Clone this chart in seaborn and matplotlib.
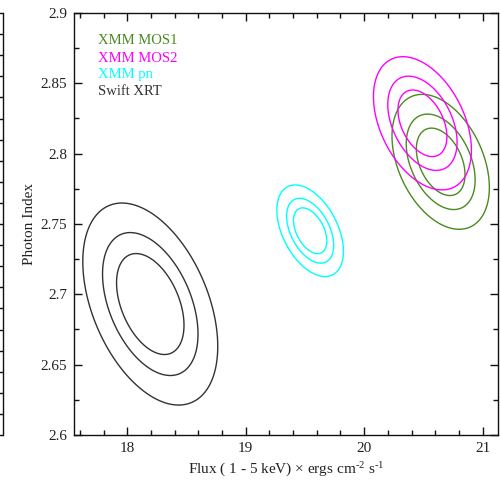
import numpy as np
import matplotlib
matplotlib.use("Agg")
import matplotlib.pyplot as plt
from matplotlib.ticker import MultipleLocator, FuncFormatter
import seaborn as sns

# Best-fit values and 1-sigma widths of the power-law fits (flux in 1e-12 ergs/cm2/s)
instruments = ["XMM MOS1", "XMM MOS2", "XMM pn", "Swift XRT"]
flux_best = [20.646, 20.492, 19.544, 18.194]
gamma_best = [2.7942, 2.8216, 2.7452, 2.6931]
flux_sigma = [0.1354, 0.1362, 0.0926, 0.1877]
gamma_sigma = [0.0158, 0.0156, 0.01073, 0.02366]
correlation = [-0.38, -0.40, -0.45, -0.42]
colors = ["#4a8a20", "#ff00ff", "#00ffff", "#333333"]

# Delta chi-square levels for 68%, 90% and 99% confidence (2 parameters)
delta_chi2 = [2.30, 4.61, 9.21]

x_range = (17.55, 21.13)
y_range = (2.6, 2.9)

sns.set_theme(style="ticks")
plt.rcParams["font.family"] = ["Liberation Serif", "DejaVu Serif"]
plt.rcParams["mathtext.fontset"] = "custom"
plt.rcParams["mathtext.rm"] = "Liberation Serif"
plt.rcParams["mathtext.it"] = "Liberation Serif:italic"

fig = plt.figure(figsize=(5.0, 4.82), dpi=100)
ax = fig.add_axes([74 / 500, 47 / 482, 424 / 500, 422 / 482])

gx = np.linspace(*x_range, 900)
gy = np.linspace(*y_range, 900)
X, Y = np.meshgrid(gx, gy)

for fx, gm, sx, sy, rho, col in zip(flux_best, gamma_best, flux_sigma,
                                    gamma_sigma, correlation, colors):
    u = (X - fx) / sx
    v = (Y - gm) / sy
    chi2 = (u ** 2 - 2 * rho * u * v + v ** 2) / (1 - rho ** 2)
    ax.contour(X, Y, chi2, levels=delta_chi2, colors=[col], linewidths=1.0)

ax.set_xlim(*x_range)
ax.set_ylim(*y_range)
ax.xaxis.set_major_locator(MultipleLocator(1))
ax.xaxis.set_minor_locator(MultipleLocator(0.2))
ax.yaxis.set_major_locator(MultipleLocator(0.05))
ax.yaxis.set_minor_locator(MultipleLocator(0.025))
ax.yaxis.set_major_formatter(FuncFormatter(
    lambda v, p: f"{v:.2f}".rstrip("0").rstrip(".")))

for s in ax.spines.values():
    s.set_linewidth(1.0)
    s.set_color("#111111")
ax.tick_params(which="both", direction="in", top=True, right=True,
               width=1.0, color="#111111", labelsize=11, labelcolor="#222222")
ax.tick_params(which="major", length=5.5, pad=5)
ax.tick_params(which="minor", length=3.5)

ax.set_xlabel("Flux ( 1 - 5 keV) \u00d7 ergs cm$^{\u2010\\mathrm{2}}$ s$^{\u2010\\mathrm{1}}$",
              fontsize=11, color="#222222", labelpad=4)
ax.set_ylabel("Photon Index", fontsize=11, color="#222222")
ax.yaxis.set_label_coords(-0.09, 0.5)

# Instrument key in the upper left corner
label_y = [0.9265, 0.8846, 0.8467, 0.8057]
for name, col, yy in zip(instruments, colors, label_y):
    ax.text(0.057, yy, name, transform=ax.transAxes, color=col,
            fontsize=10.5, va="baseline", ha="left")

# Edge of the neighbouring panel on the left
side = fig.add_axes([-0.5, 47 / 482, 0.5 + 3.3 / 500, 422 / 482])
side.set_xlim(0, 1)
side.set_ylim(0, 20)
side.set_yticks(range(21))
side.set_xticks([])
for k in ("left", "top", "bottom"):
    side.spines[k].set_visible(False)
side.spines["right"].set_linewidth(1.0)
side.spines["right"].set_color("#111111")
side.yaxis.tick_right()
side.tick_params(axis="y", direction="in", length=5.5, width=1.0,
                 color="#111111", labelright=False, labelleft=False)
side.patch.set_alpha(0)

fig.savefig("out.png", dpi=100)
